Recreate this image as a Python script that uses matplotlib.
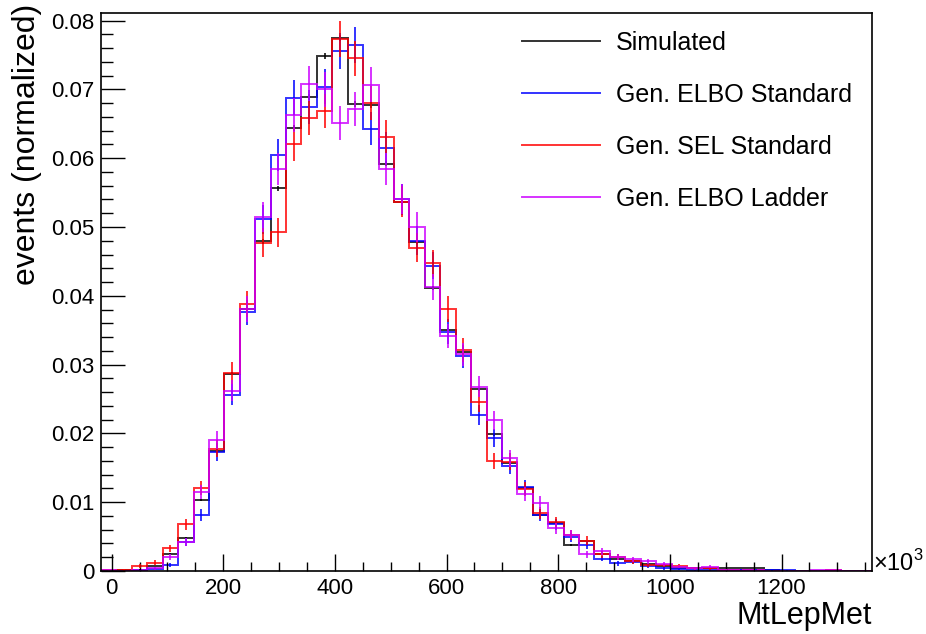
import numpy as np
import matplotlib
matplotlib.use("Agg")
import matplotlib.pyplot as plt
from matplotlib.ticker import MultipleLocator, FuncFormatter

plt.rcParams['font.family'] = ['Liberation Sans', 'DejaVu Sans']
plt.rcParams['mathtext.fontset'] = 'custom'
plt.rcParams['mathtext.rm'] = 'Liberation Sans'

# binning of MtLepMet (x10^3), 50 bins
x_lo, x_hi, n_bins = -19.0, 1362.0, 50

# normalized bin contents
simulated = [0, 0.0001, 0.0002, 0.0007, 0.0025, 0.0048, 0.0103, 0.0174, 0.0287, 0.0381,
             0.0479, 0.0556, 0.0644, 0.0689, 0.0749, 0.0774, 0.0679, 0.0677, 0.0592, 0.0537,
             0.0478, 0.0411, 0.0350, 0.0318, 0.0264, 0.0199, 0.0157, 0.0121, 0.0082, 0.0070,
             0.0038, 0.0043, 0.0025, 0.0018, 0.0015, 0.0010, 0.0007, 0.0005, 0.0005, 0.0005,
             0.0004, 0.0004, 0.0004, 0.0001, 0, 0, 0, 0, 0, 0]
elbo_standard = [0, 0, 0.0001, 0.0003, 0.0009, 0.0042, 0.0082, 0.0173, 0.0256, 0.0376,
                 0.0511, 0.0605, 0.0688, 0.0674, 0.0704, 0.0756, 0.0765, 0.0643, 0.0615, 0.0540,
                 0.0480, 0.0444, 0.0348, 0.0312, 0.0227, 0.0193, 0.0153, 0.0122, 0.0081, 0.0068,
                 0.0049, 0.0038, 0.0018, 0.0011, 0.0013, 0.0007, 0.0004, 0.0003, 0.0002, 0.0002,
                 0.0002, 0.0002, 0.0002, 0.0002, 0.0001, 0, 0, 0, 0, 0]
sel_standard = [0.0001, 0.0002, 0.0007, 0.0012, 0.0033, 0.0068, 0.0121, 0.0178, 0.0288, 0.0388,
                0.0477, 0.0492, 0.0620, 0.0658, 0.0668, 0.0773, 0.0745, 0.0680, 0.0631, 0.0537,
                0.0470, 0.0447, 0.0381, 0.0321, 0.0246, 0.0160, 0.0159, 0.0119, 0.0084, 0.0071,
                0.0052, 0.0044, 0.0024, 0.0021, 0.0014, 0.0008, 0.0008, 0.0007, 0.0004, 0.0004,
                0.0002, 0.0001, 0.0001, 0, 0, 0, 0, 0.0001, 0, 0]
elbo_ladder = [0.0001, 0, 0.0001, 0.0004, 0.0020, 0.0042, 0.0115, 0.0190, 0.0262, 0.0381,
               0.0514, 0.0584, 0.0663, 0.0708, 0.0700, 0.0651, 0.0671, 0.0707, 0.0584, 0.0541,
               0.0500, 0.0413, 0.0342, 0.0315, 0.0268, 0.0219, 0.0164, 0.0112, 0.0099, 0.0062,
               0.0053, 0.0024, 0.0029, 0.0020, 0.0017, 0.0014, 0.0010, 0.0006, 0.0004, 0.0006,
               0.0002, 0.0001, 0.0001, 0, 0, 0, 0.0001, 0.0001, 0, 0]

labels = ["Simulated", "Gen. ELBO Standard", "Gen. SEL Standard", "Gen. ELBO Ladder"]
colors = ["black", "#0000ff", "#ff0000", "#cc00ff"]
# effective number of entries (sets the size of the Poisson error bars)
n_events = [400000, 11000, 11000, 11000]

edges = np.linspace(x_lo, x_hi, n_bins + 1)
centers = 0.5 * (edges[:-1] + edges[1:])

fig = plt.figure(figsize=(9.26, 6.34), dpi=100)
ax = fig.add_axes([101 / 926, 63 / 634, 771 / 926, 558 / 634])

for vals, col, lab, n in zip([simulated, elbo_standard, sel_standard, elbo_ladder], colors, labels, n_events):
    vals = np.array(vals)
    ax.stairs(vals, edges, color=col, lw=1.4, alpha=0.8, label=lab)
    m = vals > 0
    err = np.sqrt(vals[m] / n)
    ax.errorbar(centers[m], vals[m], yerr=err, fmt='none', ecolor=col, elinewidth=1.4, alpha=0.8)

ax.set_xlim(x_lo, x_hi)
ax.set_ylim(0, 0.0811)

ax.xaxis.set_major_locator(MultipleLocator(200))
ax.xaxis.set_minor_locator(MultipleLocator(50))
ax.yaxis.set_major_locator(MultipleLocator(0.01))
ax.yaxis.set_minor_locator(MultipleLocator(0.002))
ax.yaxis.set_major_formatter(FuncFormatter(lambda v, p: "0" if abs(v) < 1e-9 else f"{v:.2f}"))
ax.tick_params(which='both', direction='in', top=False, right=False, labelsize=16, width=1)
ax.tick_params(axis='y', which='major', length=17, pad=5)
ax.tick_params(axis='y', which='minor', length=8.5)
ax.tick_params(axis='x', which='major', length=12, pad=5)
ax.tick_params(axis='x', which='minor', length=6.5)
for s in ax.spines.values():
    s.set_linewidth(1.2)

fig.text(27 / 926, 1 - 4 / 634, "events (normalized)", rotation=90, ha='center', va='top', fontsize=23)
fig.text(872 / 926, 1 - 616 / 634, "MtLepMet", ha='right', va='center', fontsize=22)
fig.text(873 / 926, 1 - 563 / 634, r"$\times10^{3}$", ha='left', va='center', fontsize=17)

leg_lines = [plt.Line2D([], [], color=c, lw=1.4, alpha=0.8) for c in colors]
ax.legend(leg_lines, labels, loc='upper left', bbox_to_anchor=(522 / 926, 1 - 31 / 634),
          bbox_transform=fig.transFigure, frameon=False, fontsize=18, borderpad=0,
          borderaxespad=0, handlelength=3.1, handletextpad=0.64, labelspacing=1.12)

fig.savefig("out.png", dpi=100)
